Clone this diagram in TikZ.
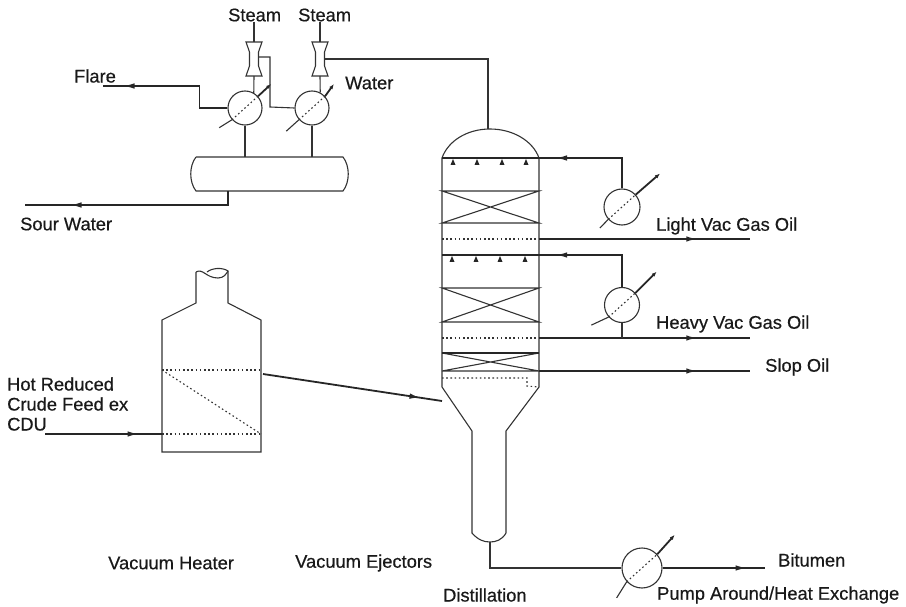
\documentclass[tikz,border=0pt]{standalone}
\usepackage{fontspec}
\setmainfont{Liberation Sans}[RawFeature={embolden=0.5}]
\usetikzlibrary{arrows.meta,decorations.markings}
\tikzset{
  thinline/.style={draw,line width=1.1pt,black!80},
  heavyline/.style={draw,line width=1.8pt,black!85},
  dotline/.style={draw,line width=1.1pt,black!80,dash pattern=on 1.6pt off 2.6pt},
  midarrow/.style={postaction={decorate},decoration={markings,mark=at position #1 with {\arrow{Latex[length=11pt,width=5.5pt]}}}},
  hxnode/.style={draw,circle,line width=1.1pt,black!80,inner sep=0pt,minimum size=#1},
  lbl/.style={font=\fontsize{18.3}{20}\selectfont,text=black!90,inner sep=0pt,anchor=west},
}
\begin{document}
\begin{tikzpicture}[x=1pt,y=-1pt]
\useasboundingbox (0,0) rectangle (906,607);
% Labels
\node[lbl] (steama) at (228,15) {Steam};
\node[lbl] (steamb) at (298,15) {Steam};
\node[lbl] (flare) at (74,76) {Flare};
\node[lbl] (water) at (345,83) {Water};
\node[lbl] (sour) at (20,224) {Sour Water};
\node[lbl] (light) at (656,226) {Light Vac Gas Oil};
\node[lbl] (heavy) at (656,324) {Heavy Vac Gas Oil};
\node[lbl] (slop) at (765,367) {Slop Oil};
\node[lbl,align=left] (feed) at (7,404) {Hot Reduced\\Crude Feed ex\\CDU};
\node[lbl] (bitumen) at (778,560) {Bitumen};
\node[lbl] (vacheater) at (108,563) {Vacuum Heater};
\node[lbl] (vacejector) at (295,563) {Vacuum Ejectors};
\node[lbl] (distill) at (443,595) {Distillation};
\node[lbl] (pump) at (657,595) {Pump Around/Heat Exchange};
% Exchangers
\node[hxnode=34pt] (hxa) at (245,108) {};
\node[hxnode=34pt] (hxb) at (312,108) {};
\node[hxnode=36pt] (hxc) at (622,207) {};
\node[hxnode=35pt] (hxd) at (622,305) {};
\node[hxnode=40pt] (hxe) at (642,568) {};
\foreach \n/\a/\u/\b/\v in {hxa/18/-43/15/148,hxb/15/-54/17/138,hxc/32/-41/12/134,hxd/30/-45/19/155,hxe/26/-48/19/122}{
  \draw[dotline] (\n.222) -- (\n.42);
  \draw[heavyline,-{Latex[length=5pt,width=4pt]}] (\n.42) -- ++(\u:\a);
  \draw[thinline] (\n.222) -- ++(\v:\b);
}
% Ejectors
\foreach \n/\x in {eja/254,ejb/320}{
  \coordinate (\n top) at (\x,42);
  \coordinate (\n bot) at (\x,76);
  \path[thinline] (\x-8,42) -- (\x+8,42) -- (\x+4.5,52) -- (\x+4.5,66) -- (\x+8,76) -- (\x-8,76) -- (\x-4.5,66) -- (\x-4.5,52) -- cycle;
}
\coordinate (ejaside) at (258.5,57);
\coordinate (ejbside) at (324.5,59);
% Drum
\coordinate (drumtop) at (0,157);
\coordinate (drumout) at (228,191);
\path[thinline] (196,157) -- (343,157) .. controls (350,166) and (350,182) .. (343,191) -- (196,191) .. controls (189,182) and (189,166) .. (196,157);
% Heater
\coordinate (heaterin) at (162,434);
\coordinate (heaterout) at (263,374);
\path[thinline] (196,272) -- (196,303) -- (162,320) -- (162,452) -- (261,452) -- (261,320) -- (228,303) -- (228,271);
\path[thinline] (196,272) .. controls (203,268) and (206,278) .. (218,278) .. controls (224,278) and (226,274) .. (228,271) .. controls (222,267) and (212,268) .. (207,272);
\path[dotline] (162,370) -- (261,370);
\path[dotline] (162,434) -- (261,434);
\path[dotline] (162,370) -- (261,434);
% Tower
\path[thinline] (442,158) -- (442,387) -- (472,431) -- (472,533) .. controls (478,540) and (484,542) .. (490,542) .. controls (496,542) and (502,540) .. (506,533) -- (506,431) -- (539,387) -- (539,158);
\path[thinline] (442,158) .. controls (448,141) and (467,129) .. (490,129) .. controls (513,129) and (533,141) .. (539,158);
\coordinate (domeout) at (488,129);
\coordinate (towerbot) at (490,542);
\coordinate (towerfeed) at (442,401);
\foreach \y in {158,255}{
  \path[heavyline,line width=1.3pt] (442,\y) -- (539,\y);
}
\foreach \x/\y in {453/158,477/158,502/158,526/158,452/255,476/255,500/255,525/255}{
  \fill[black!85] (\x-2.5,\y+7) -- (\x+2.5,\y+7) -- (\x,\y+1) -- cycle;
}
\foreach \t/\b in {191/223,288/322,353/371}{
  \path[thinline] (442,\t) -- (539,\t) -- (442,\b) -- (539,\b) -- cycle;
}
\path[heavyline] (442,353) -- (539,353);
\path[dotline] (442,239) -- (539,239);
\path[dotline] (442,338) -- (539,338);
\path[dotline] (442,378) -- (527,378) -- (527,386) -- (539,387);
% Tower side streams
\coordinate (lightin) at (539,239);
\coordinate (lightout) at (750,239);
\coordinate (heavyin) at (539,338);
\coordinate (heavyout) at (750,338);
\coordinate (slopin) at (539,371);
\coordinate (slopout) at (750,371);
\coordinate (refluxa) at (539,158);
\coordinate (refluxb) at (539,255);
\coordinate (flareend) at (103,86);
\coordinate (sourend) at (25,205);
\coordinate (feedstart) at (45,434);
\coordinate (bitumenend) at (765,568);
% Connectors
\draw[thinline] (steama.south -| ejatop) -- (ejatop);
\draw[thinline] (steamb.south -| ejbtop) -- (ejbtop);
\draw[thinline] (ejabot) -- (hxa.60);
\draw[thinline] (ejbbot) -- (hxb.62);
\draw[thinline] (ejaside) -| ++(11.5,50) -- (hxb.west);
\draw[thinline] (ejbside) -| (domeout);
\draw[heavyline,line width=1.4pt,midarrow=.86] (hxa.west) -- ++(-28,0) |- (flareend);
\draw[thinline] (hxa.south) -- (hxa.south |- drumtop);
\draw[thinline] (hxb.south) -- (hxb.south |- drumtop);
\draw[heavyline,line width=1.4pt,midarrow=.79] (drumout) |- (sourend);
\draw[heavyline,midarrow=.8] (feedstart) -- (heaterin);
\draw[heavyline,midarrow=.88] (heaterout) -- (towerfeed);
\draw[heavyline,midarrow=.75] (lightin) -- (lightout);
\draw[heavyline,midarrow=.75] (heavyin) -- (heavyout);
\draw[heavyline,midarrow=.75] (slopin) -- (slopout);
\draw[heavyline,line width=1.4pt,midarrow=.85] (hxc.north) |- (refluxa);
\draw[heavyline,line width=1.4pt,midarrow=.85] (hxd.north) |- (refluxb);
\draw[thinline] (hxd.south) -- (hxd.south |- heavyin);
\draw[thinline] (towerbot) |- (hxe.west);
\draw[heavyline,line width=1.4pt,midarrow=.82] (hxe.east) -- (bitumenend);
\end{tikzpicture}
\end{document}
